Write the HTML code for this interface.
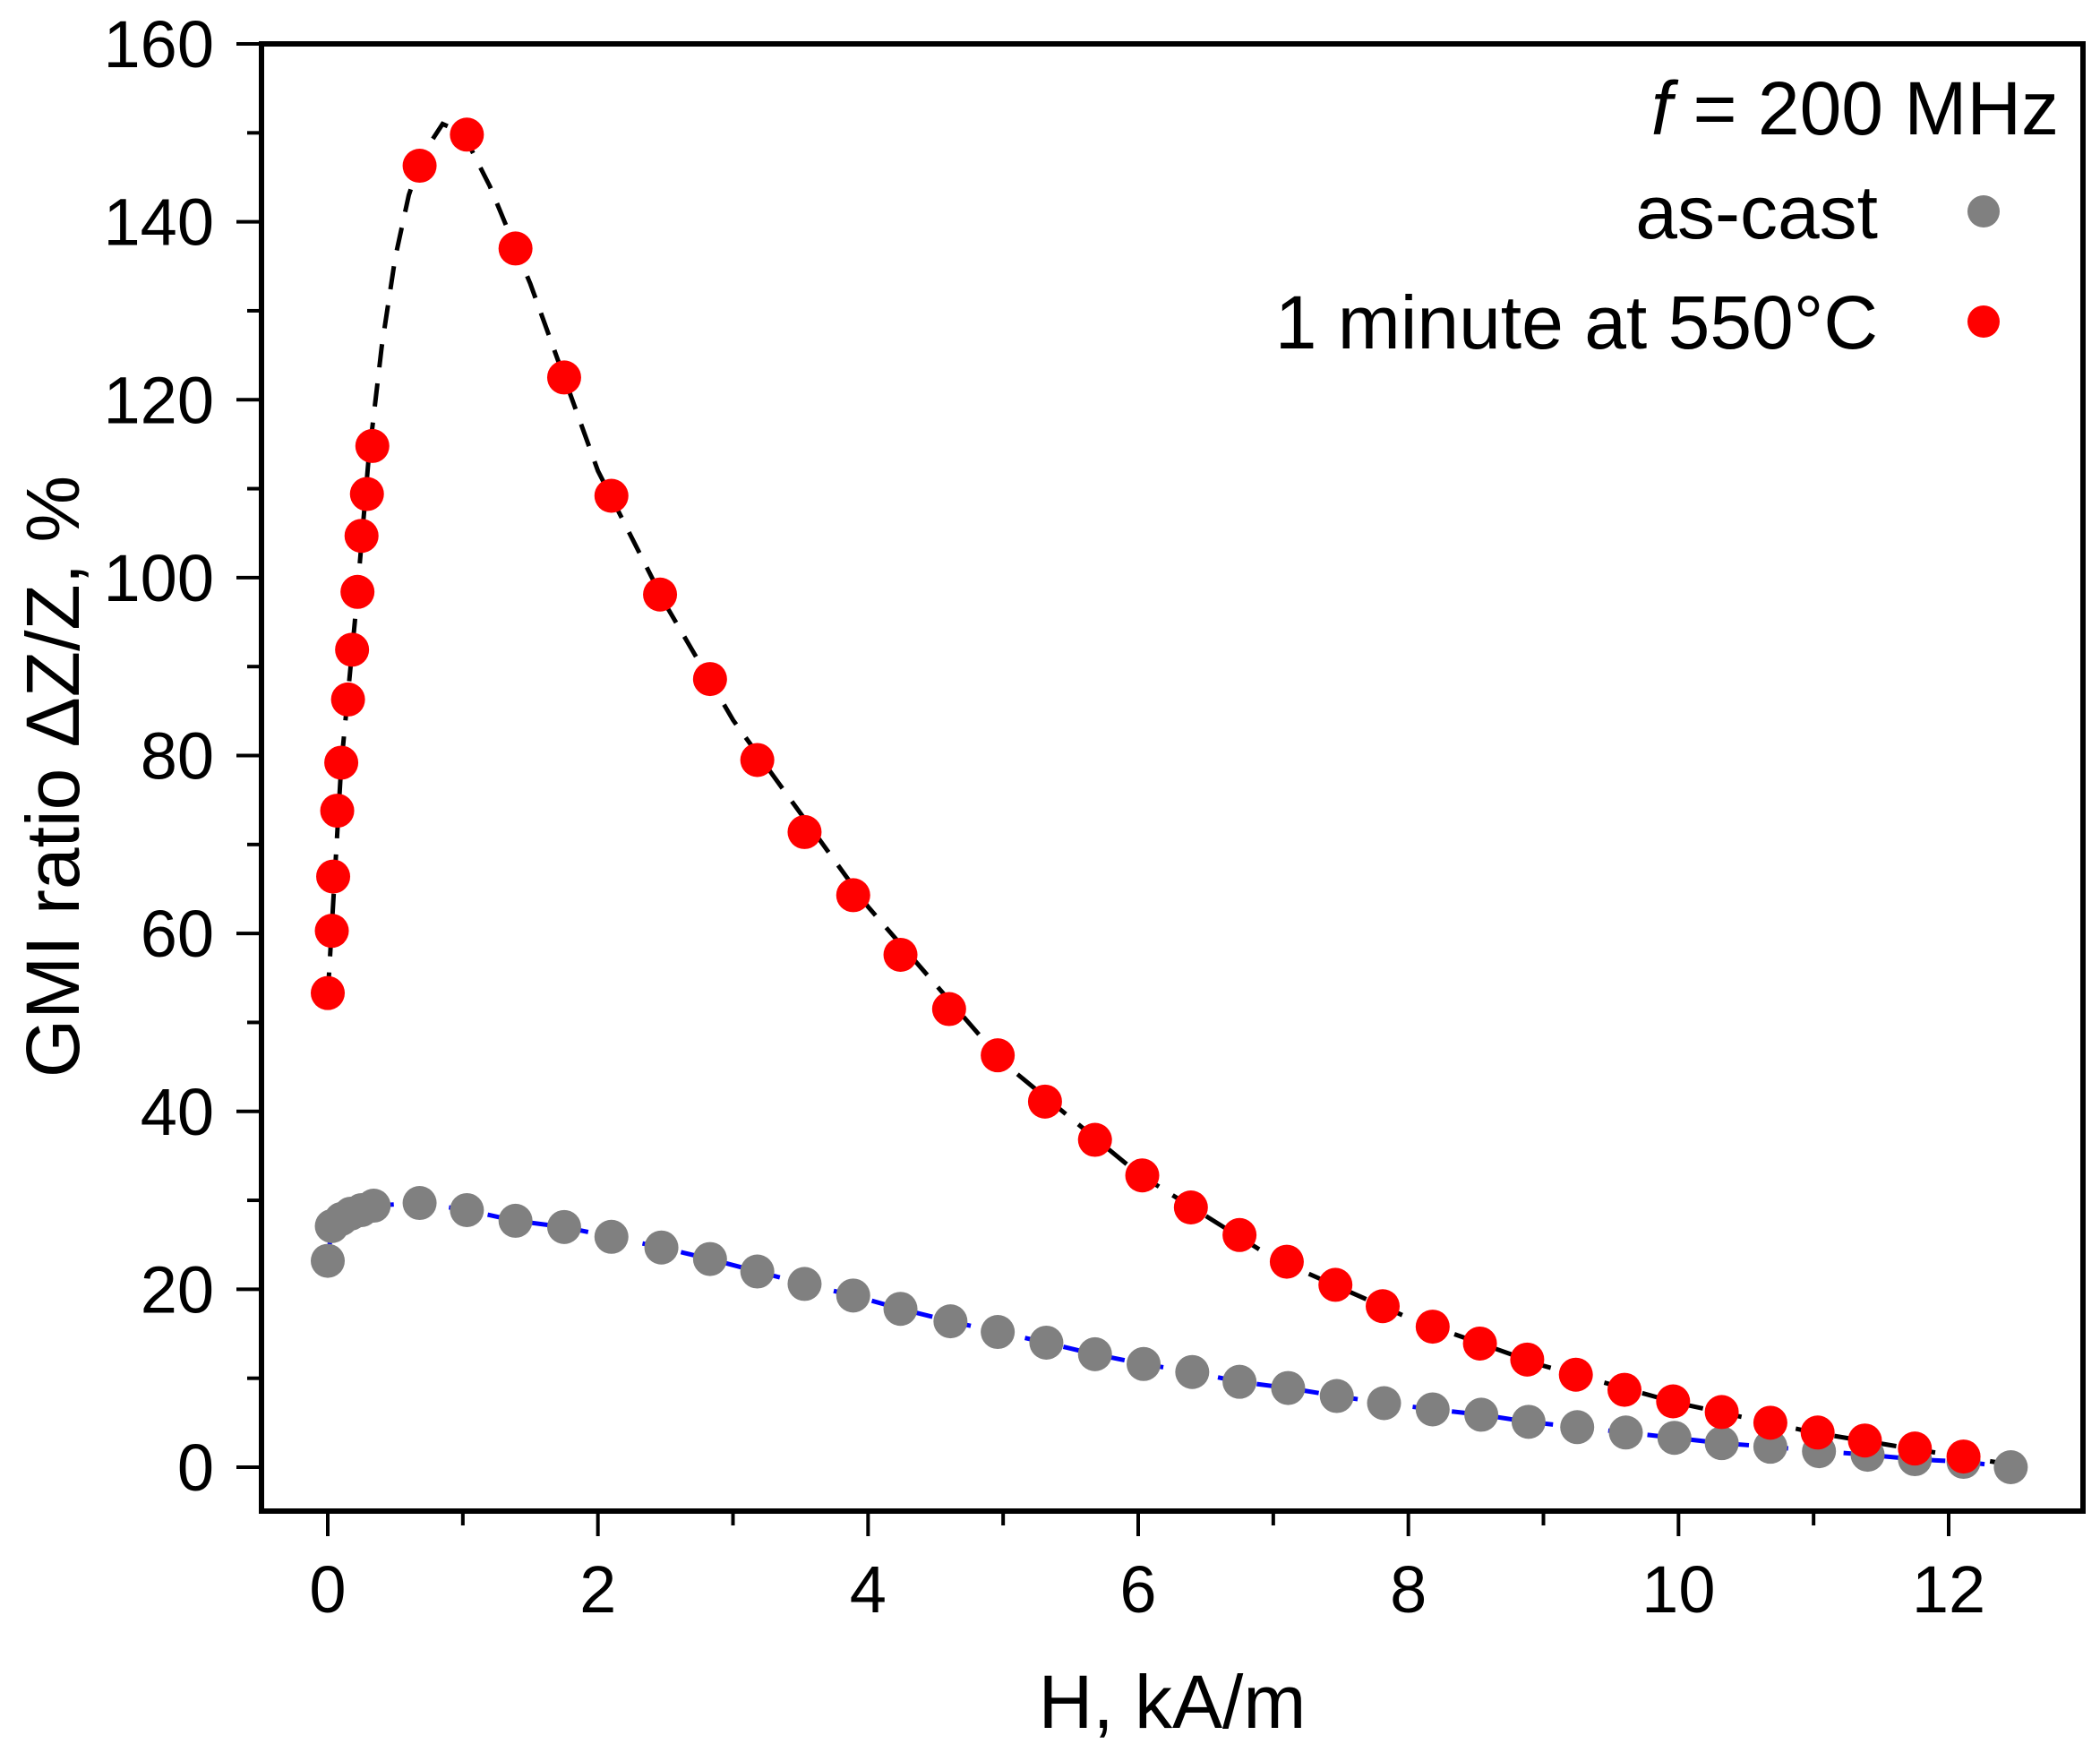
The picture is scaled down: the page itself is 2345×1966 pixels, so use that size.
<!DOCTYPE html>
<html><head><meta charset="utf-8"><style>
html,body{margin:0;padding:0;background:#fff;}
svg text{font-family:"Liberation Sans",sans-serif;fill:#000;}
</style></head><body>
<svg id="chart" width="2345" height="1961" viewBox="0 0 2345 1961" xmlns="http://www.w3.org/2000/svg">
<g id="marks"></g>
<g id="axes"></g>
<text x="2299" y="150" font-size="84" text-anchor="end"><tspan font-style="italic">f</tspan> = 200 MHz</text>
<text x="2097" y="266" font-size="84" text-anchor="end">as-cast</text>
<circle cx="2215" cy="236" r="18" fill="#808080"/>
<text x="2097" y="389" font-size="84" text-anchor="end">1 minute at 550°C</text>
<circle cx="2215" cy="359" r="18" fill="#ff0000"/>
<text x="1309" y="1929" font-size="84" text-anchor="middle">H, kA/m</text>
<text transform="translate(88,867) rotate(-90)" font-size="84" text-anchor="middle">GMI ratio ΔZ/Z, %</text>
</svg>
<script>
const redX=[0,0.03,0.04,0.07,0.1,0.15,0.18,0.22,0.25,0.29,0.33,0.68,1.03,1.39,1.75,2.1,2.46,2.83,3.18,3.53,3.89,4.24,4.6,4.96,5.31,5.68,6.03,6.39,6.75,7.1,7.46,7.81,8.18,8.53,8.88,9.24,9.6,9.96,10.32,10.68,11.03,11.38,11.75,12.11];
const redY=[53.3,60.3,66.4,73.8,79.2,86.3,91.9,98.4,104.7,109.4,114.8,146.3,149.8,137,122.5,109.2,98.1,88.6,79.5,71.4,64.3,57.6,51.5,46.3,41.1,36.8,32.8,29.2,26.1,23.1,20.5,18.1,15.8,13.9,12.1,10.4,8.7,7.4,6.2,5.0,3.9,3.0,2.1,1.2];
const grayX=[0,0.03,0.1,0.17,0.25,0.34,0.68,1.03,1.39,1.75,2.1,2.47,2.83,3.18,3.53,3.89,4.24,4.61,4.96,5.32,5.68,6.04,6.4,6.75,7.11,7.47,7.82,8.18,8.54,8.89,9.25,9.61,9.97,10.32,10.68,11.04,11.4,11.75,12.11,12.46];
const grayY=[23.2,27.1,27.9,28.5,28.9,29.4,29.7,28.9,27.7,27.0,25.9,24.7,23.4,22.0,20.6,19.3,17.8,16.4,15.2,14.0,12.7,11.6,10.7,9.6,8.9,8.0,7.2,6.5,5.9,5.1,4.5,3.9,3.3,2.7,2.3,1.8,1.4,0.9,0.6,0];
const fitRedX=[0,0.1,0.2,0.3,0.4,0.5,0.6,0.7,0.85,1.0,1.2,1.5,2,2.5,3,4,5,6,7,8,9,10,11,12,12.46];
const fitRedY=[53,79,95,113,126,136,143,147.5,151,150,144,133,112,97,84,63,45.5,33,23.5,16.8,11.4,7.2,3.9,1.4,0.3];
const xTicks=[0,2,4,6,8,10,12];
const yTicks=[0,20,40,60,80,100,120,140,160];
const X0=366,X1=2176,Y0=1638,Y1=49;
const L=292,R=2326,T=49,B=1687;
function sx(v){return X0+(X1-X0)*v/12;}
function sy(v){return Y0+(Y1-Y0)*v/160;}
const NS='http://www.w3.org/2000/svg';
const marks=document.getElementById('marks'),axes=document.getElementById('axes');
function mk(tag,attrs,parent){const e=document.createElementNS(NS,tag);for(const k in attrs)e.setAttribute(k,attrs[k]);parent.appendChild(e);return e;}
let d=fitRedX.map((x,i)=>(i?'L':'M')+sx(x).toFixed(1)+' '+sy(fitRedY[i]).toFixed(1)).join(' ');
const fr=mk('path',{d:d,fill:'none',stroke:'#000','stroke-width':5,'stroke-dasharray':'26 18'},marks);


d=grayX.map((x,i)=>(i?'L':'M')+sx(x).toFixed(1)+' '+sy(grayY[i]).toFixed(1)).join(' ');
const fg=mk('path',{d:d,fill:'none',stroke:'#0000ff','stroke-width':5,'stroke-dasharray':'26 18'},marks);


grayX.forEach((x,i)=>{const c=mk('circle',{cx:sx(x),cy:sy(grayY[i]),r:19,fill:'#808080'},marks);

});
redX.forEach((x,i)=>{const c=mk('circle',{cx:sx(x),cy:sy(redY[i]),r:19,fill:'#ff0000'},marks);

});
const fm=mk('rect',{x:L,y:T,width:R-L,height:B-T,fill:'none',stroke:'#000','stroke-width':6},axes);


for(let v=0;v<=13;v++){const x=sx(v);if(x>R)break;const maj=v%2===0;
const t=mk('line',{x1:x,x2:x,y1:B,y2:B+(maj?28:16),stroke:'#000','stroke-width':4},axes);

}
xTicks.forEach(v=>{const t=mk('text',{x:sx(v),y:1800,'font-size':74,'text-anchor':'middle'},axes);t.textContent=v;

});
for(let v=0;v<=160;v+=10){const y=sy(v);const maj=v%20===0;
const t=mk('line',{x1:L-(maj?28:16),x2:L,y1:y,y2:y,stroke:'#000','stroke-width':4},axes);

}
yTicks.forEach(v=>{const t=mk('text',{x:239,y:sy(v)+26,'font-size':74,'text-anchor':'end'},axes);t.textContent=v;

});
</script>
</body></html>
